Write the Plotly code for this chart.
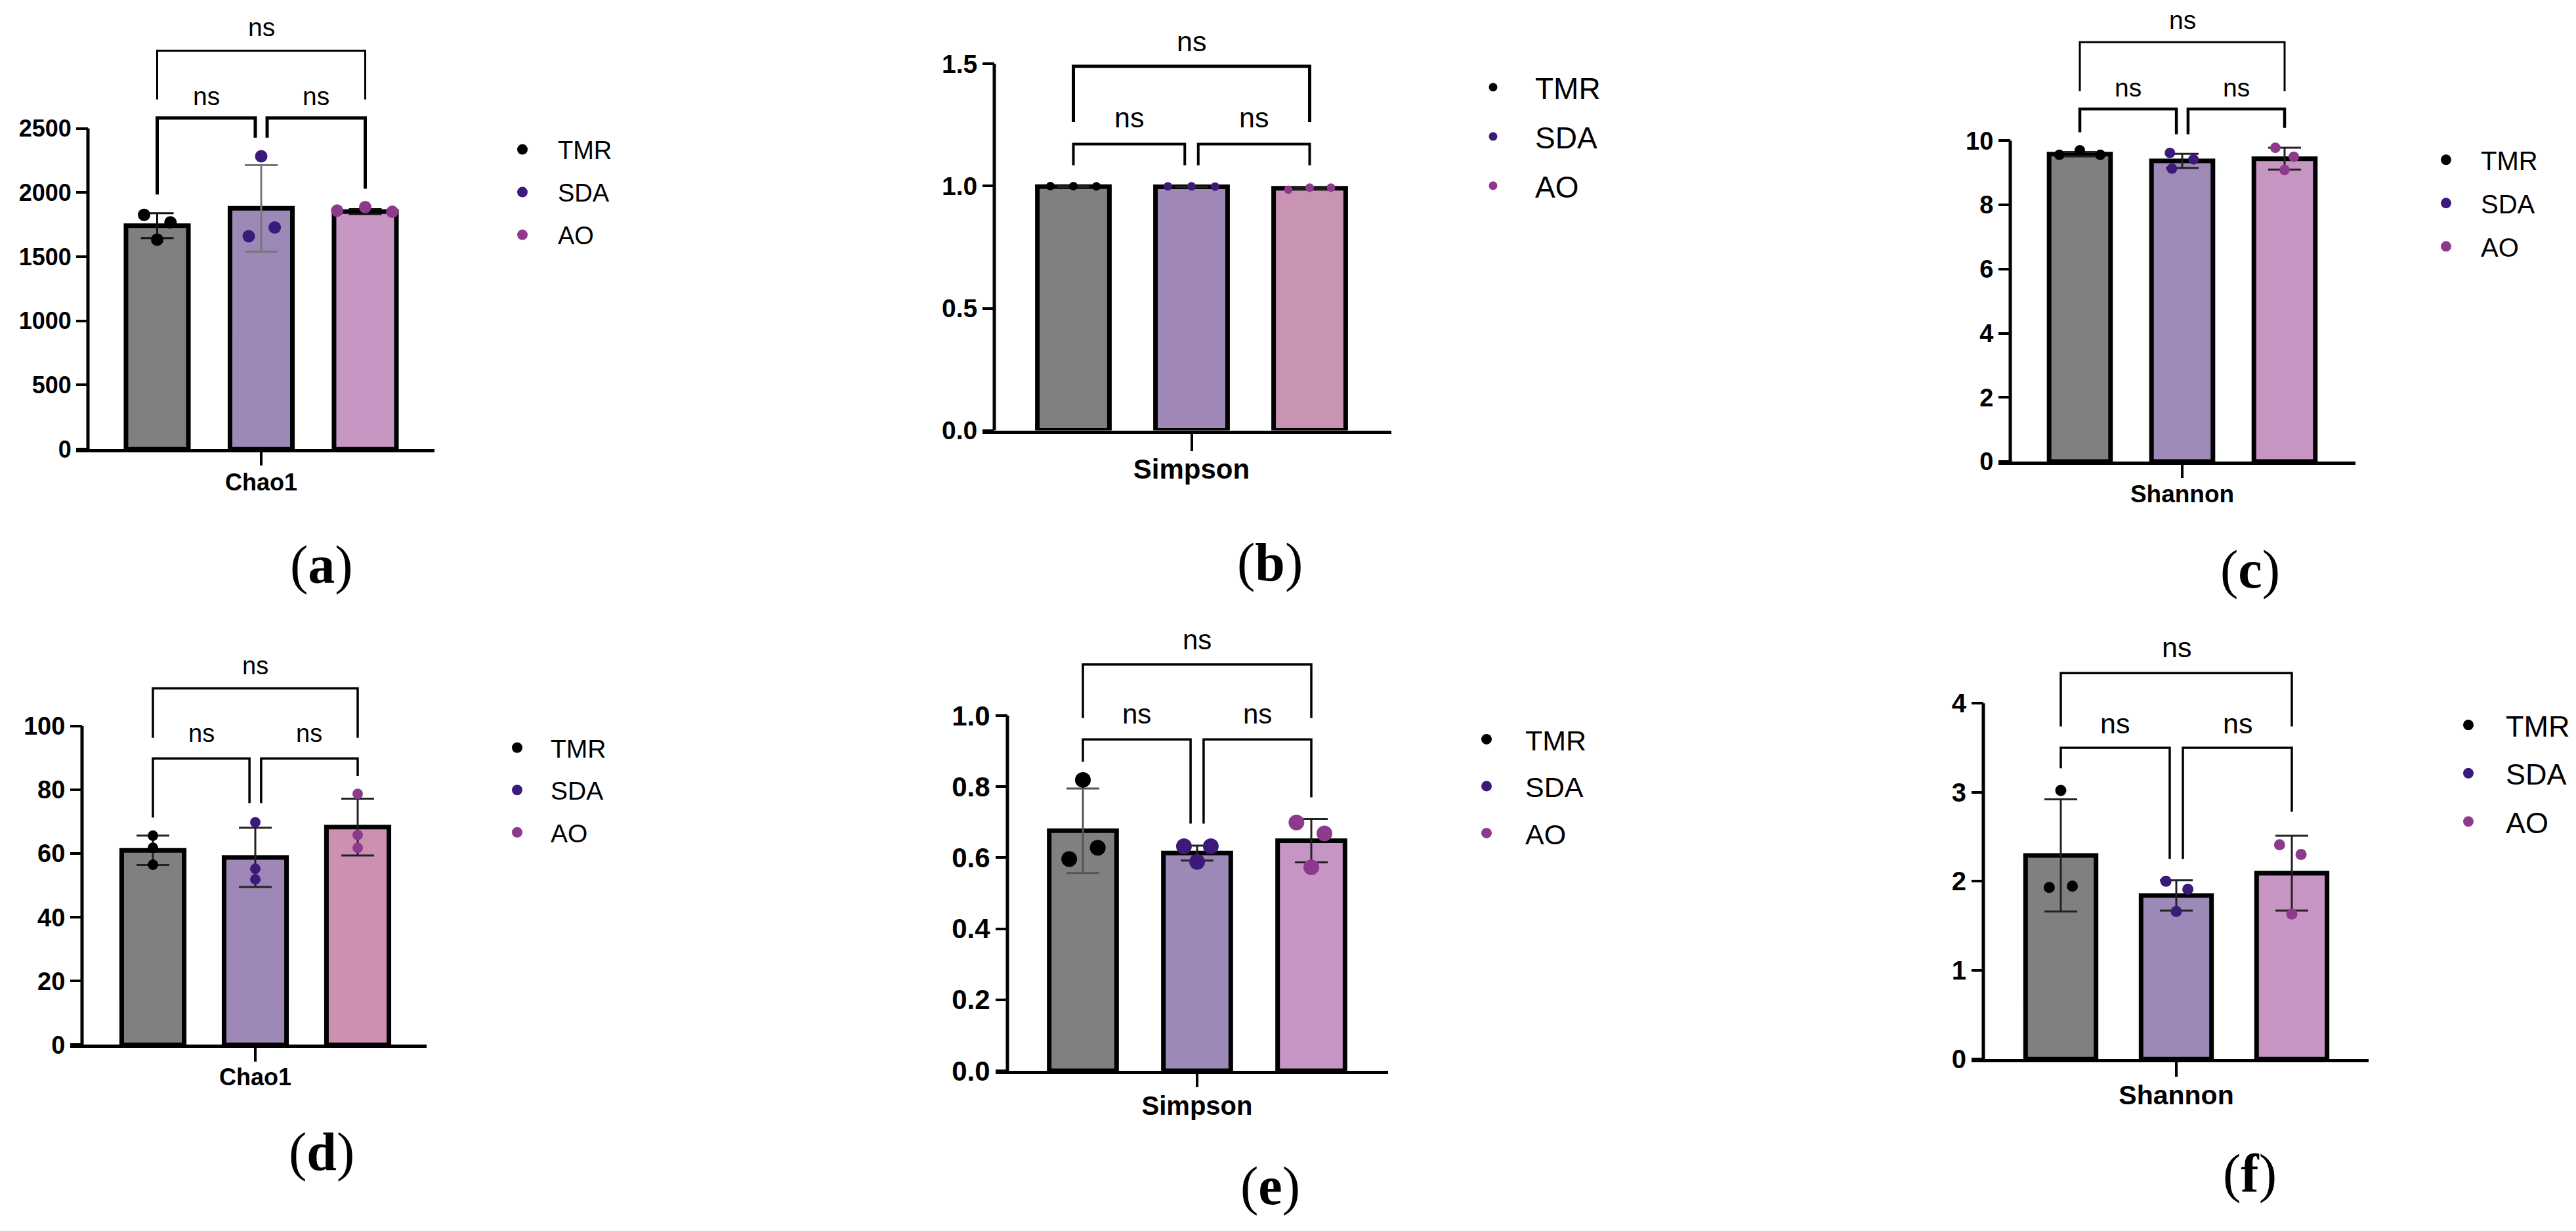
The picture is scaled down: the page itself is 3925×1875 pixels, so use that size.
import plotly.graph_objects as go

W, H = 3925, 1875

# ---------------- data ----------------
groups = ["TMR", "SDA", "AO"]
point_colors = ["#000000", "#3B1A7A", "#8E3A8C"]
panel_letters = ["a", "b", "c", "d", "e", "f"]
metrics = ["Chao1", "Simpson", "Shannon", "Chao1", "Simpson", "Shannon"]

# (a) Chao1
a_means = [1742, 1877, 1852]
a_sd = [97, 337, 19]
a_points = [[1826, 1768, 1633], [2283, 1660, 1728], [1859, 1886, 1850]]
a_offsets = [[-0.126, 0.128, 0.0], [0.0, -0.12, 0.13], [-0.27, 0.0, 0.26]]
a_ticks = [0, 500, 1000, 1500, 2000, 2500]
a_ticktext = ["0", "500", "1000", "1500", "2000", "2500"]

# (b) Simpson
b_means = [0.998, 0.997, 0.991]
b_sd = [0.001, 0.001, 0.005]
b_points = [[1.0, 1.0, 0.999], [0.999, 0.999, 0.998], [0.985, 0.994, 0.994]]
b_offsets = [[-0.195, 0.0, 0.195], [-0.2, 0.0, 0.2], [-0.18, 0.0, 0.18]]
b_ticks = [0, 0.5, 1.0, 1.5]
b_ticktext = ["0.0", "0.5", "1.0", "1.5"]

# (c) Shannon
c_means = [9.58, 9.37, 9.44]
c_sd = [0.07, 0.22, 0.34]
c_points = [[9.56, 9.70, 9.56], [9.62, 9.42, 9.13], [9.78, 9.50, 9.09]]
c_offsets = [[-0.2, 0.0, 0.2], [-0.12, 0.11, -0.1], [-0.09, 0.09, 0.0]]
c_ticks = [0, 2, 4, 6, 8, 10]
c_ticktext = ["0", "2", "4", "6", "8", "10"]

# (d) Chao1
d_means = [61.0, 58.8, 68.3]
d_sd = [4.6, 9.3, 8.9]
d_points = [[65.6, 61.8, 56.5], [69.8, 55.2, 51.9], [78.7, 65.8, 61.8]]
d_offsets = [[0.0, 0.0, 0.0], [0.0, 0.0, 0.0], [0.0, 0.0, 0.0]]
d_ticks = [0, 20, 40, 60, 80, 100]
d_ticktext = ["0", "20", "40", "60", "80", "100"]

# (e) Simpson
e_means = [0.676, 0.613, 0.648]
e_sd = [0.119, 0.021, 0.061]
e_points = [[0.819, 0.596, 0.628], [0.632, 0.632, 0.588], [0.699, 0.668, 0.573]]
e_offsets = [[0.0, -0.12, 0.13], [-0.115, 0.12, 0.0], [-0.13, 0.115, 0.0]]
e_ticks = [0, 0.2, 0.4, 0.6, 0.8, 1.0]
e_ticktext = ["0.0", "0.2", "0.4", "0.6", "0.8", "1.0"]

# (f) Shannon
f_means = [2.29, 1.84, 2.09]
f_sd = [0.63, 0.17, 0.42]
f_points = [[3.02, 1.93, 1.945], [2.0, 1.91, 1.66], [2.41, 2.30, 1.63]]
f_offsets = [[0.0, -0.1, 0.1], [-0.09, 0.1, 0.0], [-0.106, 0.08, 0.0]]
f_ticks = [0, 1, 2, 3, 4]
f_ticktext = ["0", "1", "2", "3", "4"]

# significance brackets: [upper bar, upper legs end, lower bar, inner legs end,
#                         left outer leg end, right outer leg end, ns upper, ns lower]
a_brackets = [3105, 2726, 2581, 2428, 1985, 2030, 3286, 2753]
b_brackets = [1.49, 1.262, 1.172, 1.085, 1.085, 1.085, 1.593, 1.28]
c_brackets = [13.07, 11.54, 10.99, 10.2, 10.26, 10.4, 13.76, 11.66]
d_brackets = [111.8, 96.3, 89.8, 75.8, 71.3, 84.3, 118.9, 97.6]
e_brackets = [1.144, 0.993, 0.933, 0.696, 0.87, 0.77, 1.213, 1.004]
f_brackets = [4.34, 3.74, 3.5, 2.25, 3.27, 2.78, 4.63, 3.77]
sig_labels = ["ns", "ns", "ns"]

bar_colors = [
    ["#808080", "#9D89B7", "#C796C2"],
    ["#808080", "#A088B6", "#C993B3"],
    ["#808080", "#9E89B7", "#C695C2"],
    ["#808080", "#9D88B7", "#CB90B2"],
    ["#808080", "#9D89B8", "#C695C3"],
    ["#808080", "#9D89B8", "#C695C3"],
]
err_colors = [
    ["#111111", "#777777", "#111111"],
    ["#222222", "#222222", "#222222"],
    ["#222222", "#222222", "#222222"],
    ["#222222", "#222222", "#222222"],
    ["#555555", "#222222", "#222222"],
    ["#222222", "#222222", "#222222"],
]

panel_data = [
    (a_means, a_sd, a_points, a_offsets, a_ticks, a_ticktext, a_brackets),
    (b_means, b_sd, b_points, b_offsets, b_ticks, b_ticktext, b_brackets),
    (c_means, c_sd, c_points, c_offsets, c_ticks, c_ticktext, c_brackets),
    (d_means, d_sd, d_points, d_offsets, d_ticks, d_ticktext, d_brackets),
    (e_means, e_sd, e_points, e_offsets, e_ticks, e_ticktext, e_brackets),
    (f_means, f_sd, f_points, f_offsets, f_ticks, f_ticktext, f_brackets),
]

# ---------------- layout (pixel geometry) ----------------
# L: y-axis px, R: x-axis right end px, c1: first bar center px, s: px per bar slot,
# y0: px of value 0, ppu: px per unit, top: plot top px
geo = [
    dict(L=126, R=654, c1=231.5, s=158.5, y0=685, ppu=0.198, top=5, bw=0.6, olw=7, tf=36, xf=36, xtl=20, sto=-5,
         ms=19, nsf=39, blw_u=3, blw_l=5, lab=(482, 864),
         leg=dict(mx=789, r1=226, sp=65, f=38, iw=98)),
    dict(L=1507, R=2112, c1=1627.5, s=180, y0=656, ppu=377, top=5, bw=0.61, olw=7, tf=39, xf=42, xtl=26, sto=-8,
         ms=13, nsf=43, blw_u=5, blw_l=4, lab=(1927, 860),
         leg=dict(mx=2268, r1=130, sp=75, f=46, iw=118)),
    dict(L=3055, R=3581, c1=3161, s=156, y0=704, ppu=49.5, top=5, bw=0.6, olw=7, tf=38, xf=37, xtl=20, sto=-7,
         ms=16, nsf=39, blw_u=3, blw_l=4.5, lab=(3420, 871),
         leg=dict(mx=3720, r1=242, sp=66, f=40, iw=96)),
    dict(L=117, R=642, c1=225, s=156, y0=1604, ppu=4.92, top=940, bw=0.61, olw=7, tf=38, xf=36, xtl=21, sto=-8,
         ms=16, nsf=38, blw_u=3.5, blw_l=3.5, lab=(482, 1769),
         leg=dict(mx=781, r1=1149, sp=64.5, f=39, iw=92)),
    dict(L=1527, R=2107, c1=1642, s=174, y0=1644, ppu=548, top=940, bw=0.59, olw=7, tf=42, xf=40, xtl=20, sto=-6,
         ms=24, nsf=42, blw_u=3.5, blw_l=3.5, lab=(1927, 1822),
         leg=dict(mx=2258, r1=1136, sp=71.5, f=43, iw=108)),
    dict(L=3014, R=3601, c1=3132, s=176, y0=1626, ppu=137.25, top=940, bw=0.61, olw=7, tf=40, xf=41, xtl=22, sto=-7,
         ms=17, nsf=43, blw_u=3.5, blw_l=3.5, lab=(3420, 1803),
         leg=dict(mx=3754, r1=1114, sp=73.5, f=45, iw=104)),
]

SANS = "Liberation Sans, Arial, sans-serif"
SERIF = "Liberation Serif, Times New Roman, serif"
YTL = 18
INNER = 0.057

fig = go.Figure()
shapes = []
annotations = []
layout_axes = {}
legends = {}

for i, (means, sds, pts, offs, ticks, ticktext, br) in enumerate(panel_data):
    g = geo[i]
    n = i + 1
    xa = "x" if n == 1 else f"x{n}"
    ya = "y" if n == 1 else f"y{n}"
    xkey = "xaxis" if n == 1 else f"xaxis{n}"
    ykey = "yaxis" if n == 1 else f"yaxis{n}"
    lkey = "legend" if n == 1 else f"legend{n}"

    Dl = g["L"] - YTL
    xr = [(Dl - g["c1"]) / g["s"], (g["R"] - g["c1"]) / g["s"]]
    yr = [0, (g["y0"] - g["top"]) / g["ppu"]]
    x_axis_pos = (g["L"] - g["c1"]) / g["s"]

    # bars (mean +/- SD)
    for k in range(3):
        fig.add_trace(go.Bar(
            x=[k], y=[means[k]], width=g["bw"],
            marker=dict(color=bar_colors[i][k], line=dict(color="black", width=g["olw"])),
            error_y=dict(type="data", array=[sds[k]], visible=True, color=err_colors[i][k],
                         thickness=3, width=25),
            xaxis=xa, yaxis=ya, showlegend=False, hoverinfo="skip",
        ))
    # individual points
    for k in range(3):
        fig.add_trace(go.Scatter(
            x=[k + o for o in offs[k]], y=pts[k], mode="markers",
            marker=dict(color=point_colors[k], size=g["ms"]),
            name=groups[k], legend=lkey, legendgroup=f"{n}{groups[k]}",
            xaxis=xa, yaxis=ya, cliponaxis=False,
        ))

    layout_axes[xkey] = dict(
        domain=[Dl / W, g["R"] / W], range=xr, anchor=ya,
        showline=True, linewidth=5, linecolor="black", showgrid=False, zeroline=False,
        tickmode="array", tickvals=[1], ticktext=[metrics[i]],
        ticks="outside", ticklen=g["xtl"], tickwidth=4, tickcolor="black",
        tickfont=dict(family=SANS, size=g["xf"], color="black", weight="bold"),
        ticklabelstandoff=g["sto"],
    )
    layout_axes[ykey] = dict(
        domain=[1 - g["y0"] / H, 1 - g["top"] / H], range=yr,
        anchor="free", position=g["L"] / W,
        showline=False, showgrid=False, zeroline=False,
        tickmode="array", tickvals=ticks, ticktext=ticktext,
        ticks="outside", ticklen=YTL, tickwidth=4, tickcolor="black",
        tickfont=dict(family=SANS, size=g["tf"], color="black", weight="bold"),
    )

    # y-axis line (stops at the top tick)
    shapes.append(dict(type="line", xref=xa, yref=ya, x0=x_axis_pos, x1=x_axis_pos,
                       y0=0, y1=ticks[-1], line=dict(color="black", width=5)))

    # significance brackets
    yU, yUleg, yL, yIn, yLo, yRo, nsU, nsL = br
    up = f"M 0,{yUleg} L 0,{yU} L 2,{yU} L 2,{yUleg}"
    lowL = f"M 0,{yLo} L 0,{yL} L {1 - INNER},{yL} L {1 - INNER},{yIn}"
    lowR = f"M {1 + INNER},{yIn} L {1 + INNER},{yL} L 2,{yL} L 2,{yRo}"
    shapes.append(dict(type="path", xref=xa, yref=ya, path=up, line=dict(color="black", width=g["blw_u"])))
    for p in (lowL, lowR):
        shapes.append(dict(type="path", xref=xa, yref=ya, path=p, line=dict(color="black", width=g["blw_l"])))

    for (xx, yy, t) in [(1, nsU, sig_labels[0]), ((1 - INNER) / 2, nsL, sig_labels[1]),
                        ((3 + INNER) / 2, nsL, sig_labels[2])]:
        annotations.append(dict(x=xx, y=yy, xref=xa, yref=ya, text=t, showarrow=False,
                                xanchor="center", yanchor="middle",
                                font=dict(family=SANS, size=g["nsf"], color="black")))

    # panel label
    lx, ly = g["lab"]
    annotations.append(dict(x=lx / W, y=1 - ly / H, xref="paper", yref="paper",
                            text=f"(<b>{panel_letters[i]}</b>)", showarrow=False,
                            xanchor="center", yanchor="middle",
                            font=dict(family=SERIF, size=82, color="black")))

    # legend
    lg = g["leg"]
    h_item = 1.3 * lg["f"] + 3
    legends[lkey] = dict(
        x=(lg["mx"] - lg["iw"] / 2 - 6) / W, y=1 - (lg["r1"] - h_item / 2 - 9) / H,
        xanchor="left", yanchor="top", xref="paper", yref="paper",
        font=dict(family=SANS, size=lg["f"], color="black"),
        itemwidth=lg["iw"], tracegroupgap=max(0, lg["sp"] - h_item),
        bgcolor="rgba(0,0,0,0)", borderwidth=0, traceorder="grouped",
    )

fig.update_layout(
    width=W, height=H, margin=dict(l=0, r=0, t=0, b=0),
    paper_bgcolor="white", plot_bgcolor="white",
    barmode="overlay", showlegend=True,
    shapes=shapes, annotations=annotations,
    **layout_axes, **legends,
)

fig.write_html("out.html")
